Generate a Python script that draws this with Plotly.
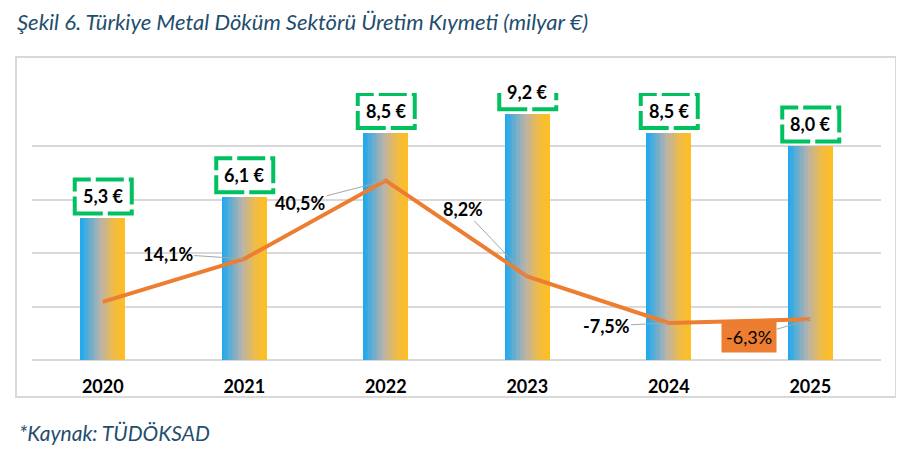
import plotly.graph_objects as go

# data
years = ["2020", "2021", "2022", "2023", "2024", "2025"]
production = [5.3, 6.1, 8.5, 9.2, 8.5, 8.0]          # milyar €
growth = [-0.4, 14.1, 40.5, 8.2, -7.5, -6.3]          # % change
growth_label_offsets = [None, (-76, -5), (-85, 22), (-64, -67), (-62, 3), (-61, 18)]

BLUE = (26, 168, 240)
MID = (185, 179, 171)
TAN = (240, 187, 70)
YELLOW = (255, 191, 31)
ORANGE = "#ed7d31"
GREEN = "#00c060"
TEXT_BLUE = "#1f4e6e"
FONT = "Lato"


def lerp(c1, c2, t):
    return tuple(round(a + (b - a) * t) for a, b in zip(c1, c2))


def gradient_color(t):
    # blue -> grey -> tan -> yellow, left to right across the bar
    if t < 0.45:
        c = lerp(BLUE, MID, t / 0.45)
    elif t < 0.75:
        c = lerp(MID, TAN, (t - 0.45) / 0.30)
    else:
        c = lerp(TAN, YELLOW, (t - 0.75) / 0.25)
    return "rgb(%d,%d,%d)" % c


fig = go.Figure()

# gradient bars: each bar is built from thin vertical slices
bar_width = 0.318
n_slices = 18
dw = bar_width / n_slices
for k in range(n_slices):
    fig.add_trace(go.Bar(
        x=years, y=production,
        width=dw * 1.08 if k < n_slices - 1 else dw,
        offset=-bar_width / 2 + k * dw,
        marker=dict(color=gradient_color((k + 0.5) / n_slices), line=dict(width=0)),
        hoverinfo="skip", showlegend=False,
    ))

# growth line on the secondary axis
fig.add_trace(go.Scatter(
    x=years, y=growth, yaxis="y2", mode="lines",
    line=dict(color=ORANGE, width=4),
    showlegend=False, hoverinfo="skip",
))

annotations = []
shapes = []

# value labels above the bars, inside green dashed boxes
for i, v in enumerate(production):
    shapes.append(dict(
        type="rect", xref="x", yref="y",
        xsizemode="pixel", ysizemode="pixel",
        xanchor=i, yanchor=v,
        x0=-28, x1=29, y0=5, y1=39,
        fillcolor="white",
        line=dict(color=GREEN, width=4, dash="28px,5px"),
        layer="above",
    ))
    annotations.append(dict(
        x=i, y=v, xref="x", yref="y",
        text=f"{v:.1f} €".replace(".", ","),
        showarrow=False, yanchor="middle", yshift=22,
        font=dict(family=FONT, size=18, color="black", weight="bold"),
    ))

# growth labels with grey leader lines
for i, (g, off) in enumerate(zip(growth, growth_label_offsets)):
    if off is None:
        continue
    neg_last = i == len(years) - 1
    annotations.append(dict(
        x=i, y=g, xref="x", yref="y2",
        text=f"{g:.1f}%".replace(".", ","),
        showarrow=True, arrowhead=0, arrowwidth=1, arrowcolor="#a6a6a6",
        ax=off[0], ay=off[1],
        bgcolor=ORANGE if neg_last else "rgba(0,0,0,0)",
        borderpad=4 if neg_last else 0,
        font=dict(family=FONT, size=18, color="black",
                  weight="normal" if neg_last else "bold"),
    ))

# source note
annotations.append(dict(
    x=-15 / 849, y=-0.27, xref="paper", yref="paper",
    xanchor="left", yanchor="middle", showarrow=False,
    text="*Kaynak: TÜDÖKSAD",
    font=dict(family=FONT, size=21, color=TEXT_BLUE, style="italic"),
))

# light grey frame around the chart area
shapes.append(dict(
    type="rect", xref="paper", yref="paper",
    x0=-16 / 849, x1=864 / 849, y0=-37 / 267, y1=303 / 267,
    line=dict(color="#d9d9d9", width=2), fillcolor="rgba(0,0,0,0)",
    layer="below",
))

# the page adds ~8px around the figure, so the figure is drawn 8px smaller
fig.update_layout(
    width=896, height=454,
    margin=dict(l=24, r=23, t=85, b=102),
    paper_bgcolor="white", plot_bgcolor="white",
    barmode="overlay", bargap=0,
    title=dict(
        text="Şekil 6. Türkiye Metal Döküm Sektörü Üretim Kıymeti (milyar €)",
        x=9 / 896, xanchor="left", xref="container",
        y=1 - 14 / 454, yanchor="middle", yref="container",
        font=dict(family=FONT, size=22, color=TEXT_BLUE, style="italic"),
    ),
    xaxis=dict(
        type="category", range=[-0.5, len(years) - 0.5],
        showgrid=False, zeroline=False, showline=False,
        ticks="", ticklabelstandoff=14,
        tickfont=dict(family=FONT, size=18, color="black", weight="bold"),
    ),
    yaxis=dict(
        range=[0, 10], dtick=2, showticklabels=False,
        gridcolor="#d9d9d9", gridwidth=1.5,
        zeroline=True, zerolinecolor="#d9d9d9", zerolinewidth=1.5,
    ),
    yaxis2=dict(
        range=[-20, 70], overlaying="y", side="right",
        visible=False, showgrid=False, zeroline=False,
    ),
    annotations=annotations,
    shapes=shapes,
)

fig.write_html("out.html")
